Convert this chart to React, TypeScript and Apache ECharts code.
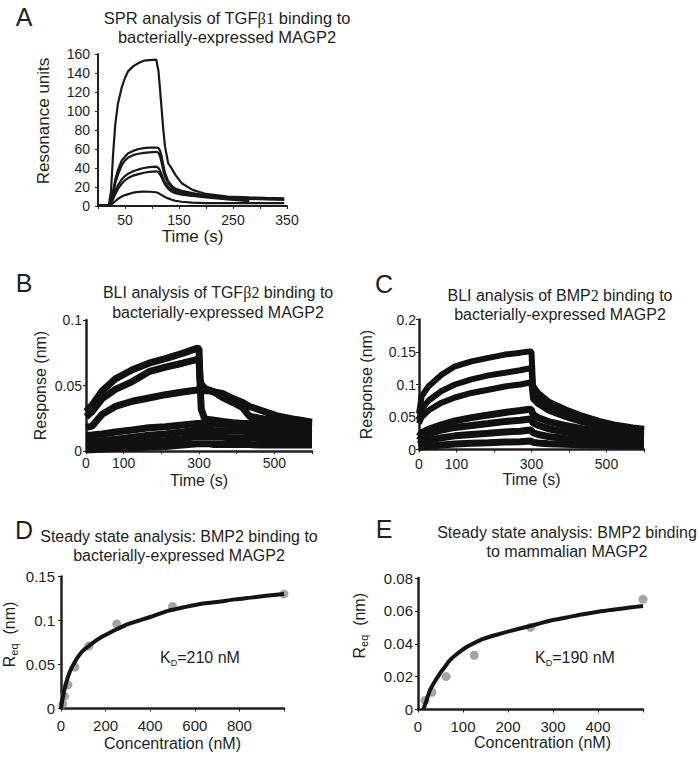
import React, { useEffect, useRef } from 'react';
import * as echarts from 'echarts';

const FONT = '"Liberation Sans", Arial, Helvetica, sans-serif';
const SERIF = '"Liberation Serif", "DejaVu Serif", serif';
const INK = '#231f20';

// Panel A: SPR sensorgrams (time s, resonance units)
const tA = [0, 20, 24, 28, 32, 37, 44, 50, 56, 65, 75, 85, 95, 108, 112, 115, 118, 121, 124, 130, 137, 143, 155, 175, 200, 240, 280, 310, 345];
const a1 = [1, 1, 15, 55, 86, 108, 125, 135, 142, 147, 150.5, 153, 153.5, 154, 142, 122, 101, 80, 63, 45, 39, 33, 24, 17, 12.7, 10, 9, 8.5, 8];
const a2 = [1, 1, 5, 16, 28, 38, 48, 52, 55.5, 58, 60, 61, 61.5, 61.5, 61, 58, 52, 43, 35, 26, 21, 18.5, 16, 13.5, 11, 8.5, 6, null, null];
const a3 = [1, 1, 4, 13, 24, 33, 43, 48, 51, 53.5, 55, 56, 56.5, 57, 56, 52, 45, 37, 31, 24, 19.5, 17, 14.5, 12.5, 10.5, 8, 5.5, null, null];
const a4 = [1, 1, 3, 9, 16, 22, 28, 31.5, 34, 36.5, 38.5, 40, 41, 41.5, 40, 37, 33, 28, 25, 20, 17, 15, 13, 11, 10, 8.5, 7.5, 7, 6.5];
const a5 = [1, 1, 2.5, 7, 12.5, 18, 23.5, 27, 29.5, 32, 33.5, 35, 36, 36.5, 35.5, 33, 30, 26, 22.5, 18, 15, 13.5, 12, 10.5, 9, 7, 5, null, null];
const a6 = [1, 1, 1.5, 3, 5, 7.5, 10, 11.5, 12.5, 14, 14.8, 15.2, 15, 14.5, 13.5, 12.5, 11.5, 10.5, 9.5, 8, 6.5, 5.5, 4.5, 3.5, 3, 3, 3, 3, 3];

// Panel B: BLI TGFb2 (time s, response nm)
const tB = [0, 16, 43, 78, 123, 167, 211, 256, 296, 300, 303, 306, 315, 327, 340, 362, 390, 416, 434, 460, 505, 558, 600];
const b1 = [0.030, 0.035, 0.046, 0.055, 0.062, 0.067, 0.0705, 0.0745, 0.0785, 0.078, 0.050, 0.032, 0.0245, 0.024, 0.0235, 0.0225, 0.0215, 0.021, 0.021, 0.021, 0.020, 0.019, 0.018];
const b2 = [0.026, 0.030, 0.040, 0.047, 0.053, 0.0605, 0.064, 0.067, 0.070, 0.0695, 0.054, 0.051, 0.048, 0.0465, 0.045, 0.041, 0.037, 0.033, 0.0265, 0.025, 0.023, 0.021, 0.020];
const b3 = [0.018, 0.019, 0.028, 0.034, 0.038, 0.0405, 0.043, 0.045, 0.0465, 0.0465, 0.0465, 0.0465, 0.046, 0.046, 0.045, 0.044, 0.040, 0.037, 0.034, 0.0315, 0.027, 0.024, 0.022];
const b4 = [0.012, 0.0123, 0.013, 0.0145, 0.016, 0.0177, 0.0185, 0.0198, 0.021, 0.021, 0.021, 0.021, 0.021, 0.021, 0.0205, 0.0205, 0.020, 0.020, 0.0195, 0.019, 0.0185, 0.018, 0.018];
const b5 = [0.007, 0.0075, 0.008, 0.009, 0.0105, 0.012, 0.013, 0.0145, 0.016, 0.016, 0.016, 0.016, 0.016, 0.016, 0.0155, 0.0155, 0.015, 0.015, 0.0145, 0.0145, 0.014, 0.0135, 0.013];
const b6 = [0.003, 0.0035, 0.004, 0.005, 0.006, 0.007, 0.008, 0.0095, 0.011, 0.011, 0.011, 0.011, 0.011, 0.011, 0.0105, 0.0105, 0.010, 0.010, 0.010, 0.0095, 0.0095, 0.009, 0.009];
const b7 = [0.001, 0.001, 0.0015, 0.002, 0.0025, 0.003, 0.0035, 0.0045, 0.0055, 0.0055, 0.0055, 0.0055, 0.0055, 0.0055, 0.005, 0.005, 0.005, 0.005, 0.005, 0.0045, 0.0045, 0.0045, 0.0045];

// Panel C: BLI BMP2 (time s, response nm)
const tC = [0, 7, 25, 60, 96, 140, 185, 229, 270, 296, 300, 304, 318, 345, 390, 435, 480, 525, 570, 600];
const c1 = [0.055, 0.082, 0.097, 0.115, 0.128, 0.1356, 0.141, 0.146, 0.149, 0.151, 0.150, 0.098, 0.087, 0.074, 0.062, 0.052, 0.044, 0.038, 0.034, 0.032];
const c2 = [0.045, 0.062, 0.075, 0.090, 0.100, 0.108, 0.114, 0.118, 0.122, 0.125, 0.124, 0.090, 0.080, 0.068, 0.056, 0.047, 0.040, 0.035, 0.032, 0.030];
const c3 = [0.040, 0.050, 0.060, 0.072, 0.080, 0.087, 0.092, 0.097, 0.100, 0.103, 0.102, 0.078, 0.070, 0.060, 0.050, 0.042, 0.036, 0.032, 0.030, 0.028];
const c4 = [0.020, 0.026, 0.031, 0.038, 0.044, 0.049, 0.053, 0.057, 0.060, 0.062, 0.061, 0.054, 0.049, 0.043, 0.037, 0.032, 0.029, 0.026, 0.024, 0.023];
const c5 = [0.014, 0.019, 0.024, 0.030, 0.034, 0.037, 0.040, 0.043, 0.045, 0.047, 0.046, 0.041, 0.037, 0.032, 0.027, 0.024, 0.022, 0.020, 0.019, 0.018];
const c6 = [0.008, 0.011, 0.014, 0.018, 0.021, 0.023, 0.025, 0.027, 0.028, 0.030, 0.029, 0.026, 0.023, 0.020, 0.017, 0.015, 0.014, 0.013, 0.012, 0.012];
const c7 = [0.003, 0.004, 0.005, 0.007, 0.0085, 0.0095, 0.0105, 0.0115, 0.012, 0.013, 0.0125, 0.011, 0.010, 0.009, 0.008, 0.007, 0.0065, 0.006, 0.006, 0.006];

// Panel D: steady state, bacterial MAGP2
const dConc = [7.8, 15.6, 31.25, 62.5, 125, 250, 500, 1000];
const dReq = [0.005, 0.014, 0.027, 0.047, 0.071, 0.096, 0.116, 0.130];
const dFitConc = [0, 3, 8, 15, 25, 40, 60, 80, 100, 125, 150, 180, 210, 250, 300, 350, 400, 480, 550, 630, 700, 780, 850, 920, 1000];
const dFit = [0, 0.005, 0.012, 0.021, 0.031, 0.042, 0.052, 0.060, 0.066, 0.071, 0.076, 0.081, 0.085, 0.090, 0.096, 0.100, 0.104, 0.111, 0.115, 0.119, 0.121, 0.124, 0.126, 0.128, 0.130];

// Panel E: steady state, mammalian MAGP2
const eConc = [15.6, 31.25, 62.5, 125, 250, 500];
const eReq = [0.0055, 0.0105, 0.020, 0.033, 0.050, 0.067];
const eFitConc = [12, 20, 27, 35, 49, 60, 71, 90, 108, 125, 145, 175, 204, 249, 293, 330, 367, 400, 441, 470, 500];
const eFit = [0, 0.0065, 0.012, 0.016, 0.022, 0.026, 0.030, 0.0345, 0.038, 0.0405, 0.043, 0.0455, 0.0477, 0.0508, 0.054, 0.056, 0.058, 0.0595, 0.061, 0.062, 0.063];

const aTickLabels = [50, 150, 250, 350];
const bcTickLabels = [0, 100, 300, 500];

const zip = (xs: number[], ys: (number | null)[]) =>
  xs.map((x, i) => [x, ys[i]]).filter((d) => d[1] !== null);

const txt = (size: number) => ({ fontSize: size, color: INK, fontFamily: FONT });

function xAxisCfg(grid: number, min: number, max: number, interval: number, show: (v: number) => boolean, name: string, nameGap: number, lw: number, labelSize: number, margin: number, namePad?: number[]) {
  return {
    gridIndex: grid, type: 'value', min, max, interval,
    axisLine: { show: true, onZero: false, lineStyle: { color: INK, width: lw } },
    axisTick: { show: true, length: 3, lineStyle: { color: INK, width: 1 } },
    axisLabel: { ...txt(labelSize), margin, formatter: (v: number) => (show(v) ? String(v) : '') },
    splitLine: { show: false },
    name, nameLocation: 'middle', nameGap,
    nameTextStyle: { ...txt(name === 'Time (s)' && grid === 0 ? 17 : 16), padding: namePad || 0 },
  };
}

function yAxisCfg(grid: number, min: number, max: number, interval: number, name: string, nameGap: number, lw: number, labelSize: number, margin: number, namePad?: number[], rich?: any) {
  return {
    gridIndex: grid, type: 'value', min, max, interval,
    axisLine: { show: true, onZero: false, lineStyle: { color: INK, width: lw } },
    axisTick: { show: true, length: 3, lineStyle: { color: INK, width: 1 } },
    axisLabel: { ...txt(labelSize), margin },
    splitLine: { show: false },
    name, nameLocation: 'middle', nameGap,
    nameTextStyle: { ...txt(grid === 0 ? 17 : 16), padding: namePad || 0, rich },
  };
}

const reqRich = {
  r: { fontSize: 16, fontFamily: FONT, color: INK, lineHeight: 20 },
  s: { fontSize: 11, fontFamily: FONT, color: INK, lineHeight: 11, verticalAlign: 'bottom' },
};

function titleCfg(text: string, left: number, top: number, lh: number, size = 16) {
  return {
    text, left, top, textAlign: 'center', textVerticalAlign: 'top', padding: 0,
    textStyle: {
      fontSize: size, fontWeight: 'normal', color: INK, fontFamily: FONT, lineHeight: lh,
      rich: { g: { fontSize: size, fontFamily: SERIF, color: INK, lineHeight: lh } },
    },
  };
}

function letter(t: string, x: number, y: number) {
  return {
    type: 'text', x, y,
    style: { text: t, fontSize: 25, fontFamily: FONT, fill: INK, align: 'center', verticalAlign: 'middle', textAlign: 'center', textVerticalAlign: 'middle' },
  };
}

function kdText(val: string, x: number, y: number) {
  return {
    type: 'text', x, y,
    style: {
      text: `{k|K}{d|D}{k|=${val} nM}`, fill: INK, fontSize: 16, fontFamily: FONT,
      verticalAlign: 'middle', textVerticalAlign: 'middle',
      rich: {
        k: { fontSize: 16, fontFamily: FONT, fill: INK, lineHeight: 20 },
        d: { fontSize: 9, fontFamily: FONT, fill: INK, lineHeight: 9, verticalAlign: 'bottom' },
      },
    },
  };
}

export default function App() {
  const ref = useRef<HTMLDivElement>(null);
  useEffect(() => {
    if (!ref.current) return;
    const chart = echarts.init(ref.current, undefined, { renderer: 'svg' });
    const lineS = (x: number, data: any[], w: number, color = '#1a1a1a', smooth: any = false) => ({
      type: 'line', xAxisIndex: x, yAxisIndex: x, data, symbol: 'none', smooth,
      lineStyle: { color, width: w }, clip: true, silent: true, z: 3,
    });
    const seriesA = [a1, a2, a3, a4, a5, a6].map((s) => lineS(0, zip(tA, s), 2.2, '#1a1718'));
    const seriesB = [b7, b6, b5, b4, b3, b2, b1].map((s) => lineS(1, zip(tB, s), 7, '#111'));
    const seriesC = [c7, c6, c5, c4, c3, c2, c1].map((s, i) => lineS(2, zip(tC, s), i < 4 ? 7 : 6, '#111'));

    chart.setOption({
      animation: false,
      backgroundColor: '#ffffff',
      title: [
        titleCfg('SPR analysis of TGF{g|β1} binding to\nbacterially-expressed MAGP2', 227, 8.5, 19, 16.5),
        titleCfg('BLI analysis of TGF{g|β2} binding to\nbacterially-expressed MAGP2', 218, 282, 20),
        titleCfg('BLI analysis of BMP{g|2} binding to\nbacterially-expressed MAGP2', 560, 285.5, 19),
        titleCfg('Steady state analysis: BMP2 binding to\nbacterially-expressed MAGP2', 179, 527.5, 18.5),
        titleCfg('Steady state analysis: BMP2 binding\nto mammalian MAGP2', 567, 523.5, 18.5),
      ],
      grid: [
        { left: 98, top: 54, width: 189, height: 152 },
        { left: 86, top: 320, width: 226, height: 131 },
        { left: 419, top: 319.5, width: 225, height: 130 },
        { left: 60, top: 576.5, width: 224, height: 132 },
        { left: 418, top: 578, width: 225, height: 131.5 },
      ],
      xAxis: [
        xAxisCfg(0, 0, 350, 50, (v) => aTickLabels.includes(v), 'Time (s)', 22, 2, 14, 7),
        xAxisCfg(1, 0, 600, 100, (v) => bcTickLabels.includes(v), 'Time (s)', 21, 2.5, 14, 5),
        xAxisCfg(2, 0, 600, 100, (v) => bcTickLabels.includes(v), 'Time (s)', 22, 2.5, 14, 7),
        xAxisCfg(3, 0, 1000, 200, (v) => v < 1000, 'Concentration (nM)', 27, 2.5, 15, 9),
        xAxisCfg(4, 0, 500, 100, (v) => v < 500, 'Concentration (nM)', 21.5, 2.5, 15, 9, [0, 0, 0, 24]),
      ],
      yAxis: [
        yAxisCfg(0, 0, 160, 20, 'Resonance units', 46, 2, 14, 8, [0, 0, 0, 18]),
        yAxisCfg(1, 0, 0.1, 0.05, 'Response (nm)', 38, 2.5, 14, 4),
        yAxisCfg(2, 0, 0.2, 0.05, 'Response (nm)', 45, 2.5, 14, 3),
        yAxisCfg(3, 0, 0.15, 0.05, '{r|R}{s|eq}{r|  (nm)}', 42, 2.5, 15, 6, [0, 0, 0, 16], reqRich),
        yAxisCfg(4, 0, 0.08, 0.02, '{r|R}{s|eq}{r|  (nm)}', 49, 2.5, 15, 5, [0, 0, 0, 36], reqRich),
      ],
      series: [
        ...seriesA,
        ...seriesB,
        ...seriesC,
        {
          type: 'scatter', xAxisIndex: 3, yAxisIndex: 3, data: zip(dConc, dReq), symbolSize: 9,
          itemStyle: { color: '#8e8e8e' }, z: 2, silent: true,
        },
        lineS(3, zip(dFitConc, dFit), 4, '#141414', 0.3),
        {
          type: 'scatter', xAxisIndex: 4, yAxisIndex: 4, data: zip(eConc, eReq), symbolSize: 9,
          itemStyle: { color: '#8e8e8e' }, z: 2, silent: true,
        },
        lineS(4, zip(eFitConc, eFit), 4, '#141414', 0.3),
      ],
      graphic: [
        letter('A', 24, 16.5),
        letter('B', 24, 282.5),
        letter('C', 384, 284),
        letter('D', 24, 530),
        letter('E', 384, 529),
        kdText('210', 160, 657),
        kdText('190', 535, 657),
      ],
    });
    return () => chart.dispose();
  }, []);
  return <div ref={ref} style={{ position: 'absolute', left: 0, top: 0, width: 700, height: 757 }} />;
}
